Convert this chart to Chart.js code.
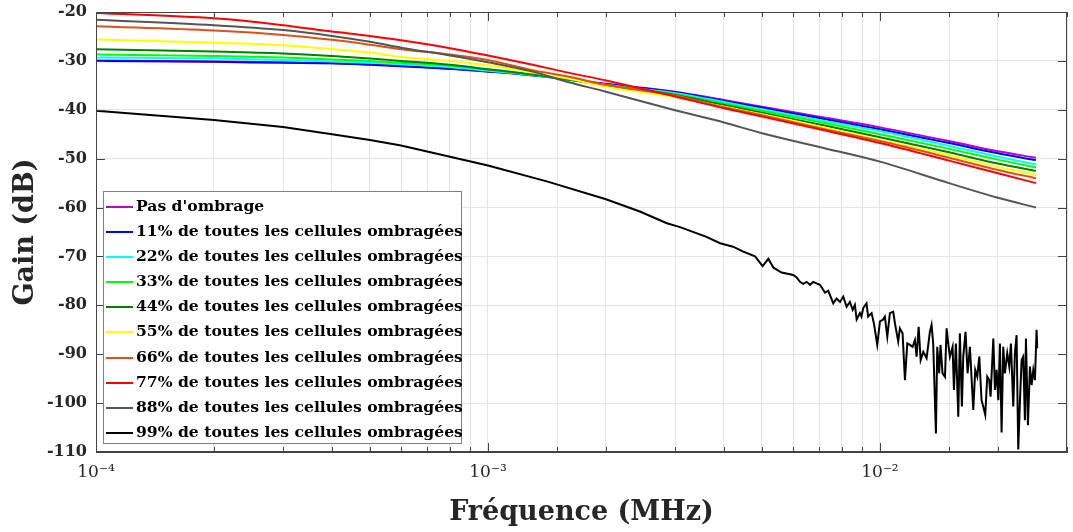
<!DOCTYPE html>
<html>
<head>
<meta charset="utf-8">
<script src="https://cdn.jsdelivr.net/npm/chart.js"></script>
<style>
  body { margin: 0; background: #fff; }
  #boite { position: relative; width: 1073px; height: 532px; }
  #legende {
    position: absolute; left: 103px; top: 191px; width: 357px; height: 250px;
    border: 1px solid #808080; background: #fff; padding-top: 1px;
    font: bold 15.6px "DejaVu Serif", serif; color: #000;
  }
  #legende div { height: 25.1px; line-height: 25.1px; white-space: nowrap; }
  #legende span.trait { display: inline-block; width: 27px; height: 2px; margin: 0 3px 0 2px; vertical-align: middle; }
</style>
</head>
<body>
<div id="boite">
  <canvas id="myChart" width="1073" height="532"></canvas>
  <div id="legende"></div>
</div>
<script>
// Fréquences (MHz) communes aux courbes lisses
const freq = [1e-4, 2e-4, 3e-4, 4e-4, 5e-4, 6e-4, 8e-4, 1e-3, 1.3e-3, 1.6e-3, 2e-3, 3e-3, 4e-3, 5e-3, 7e-3, 1e-2, 1.5e-2, 2e-2, 2.5e-2];

// Gain (dB) pour chaque taux d'ombrage
const pasOmbrage = [-29.9, -30.1, -30.3, -30.5, -30.7, -31.0, -31.6, -32.1, -32.9, -33.7, -34.7, -36.3, -38.0, -39.4, -41.4, -43.6, -46.4, -48.5, -49.8];
const ombre11 = [-30.0, -30.2, -30.4, -30.5, -30.8, -31.1, -31.6, -32.2, -33.0, -33.8, -34.8, -36.4, -38.2, -39.6, -41.7, -44.0, -46.8, -48.9, -50.3];
const ombre22 = [-29.3, -29.5, -29.8, -30.1, -30.4, -30.7, -31.3, -32.0, -32.9, -33.8, -34.9, -36.6, -38.4, -39.9, -42.1, -44.4, -47.4, -49.6, -51.2];
const ombre33 = [-28.7, -29.0, -29.3, -29.7, -30.0, -30.4, -31.0, -31.8, -32.8, -33.8, -35.0, -36.8, -38.7, -40.2, -42.5, -45.0, -48.0, -50.2, -51.8];
const ombre44 = [-27.6, -28.1, -28.5, -29.0, -29.5, -30.0, -30.8, -31.7, -32.8, -33.8, -35.1, -37.0, -39.0, -40.6, -43.0, -45.6, -48.7, -51.0, -52.5];
const ombre55 = [-25.6, -26.3, -26.8, -27.6, -28.3, -29.2, -30.0, -30.9, -32.4, -33.6, -35.3, -37.4, -39.4, -40.9, -43.4, -46.2, -49.3, -51.7, -53.3];
const ombre66 = [-22.9, -23.8, -24.7, -25.7, -26.7, -27.6, -28.7, -29.8, -31.9, -33.2, -34.9, -37.1, -39.5, -41.1, -43.7, -46.4, -49.8, -52.3, -54.0];
const ombre77 = [-20.2, -21.3, -22.7, -24.0, -24.9, -25.8, -27.4, -28.9, -30.8, -32.4, -34.0, -37.3, -39.7, -41.4, -44.0, -46.8, -50.4, -53.0, -55.0];
const ombre88 = [-21.6, -22.7, -23.7, -24.9, -26.1, -27.3, -28.9, -30.3, -32.2, -34.3, -36.3, -40.1, -42.6, -44.8, -47.6, -50.6, -55.0, -58.0, -60.0];

// 99% : courbe bruitée, avec ses propres fréquences
const freq99 = [1e-4, 2e-4, 3e-4, 4e-4, 5e-4, 6e-4, 8e-4, 1e-3, 1.42e-3, 2e-3, 2.44e-3, 2.86e-3, 3.09e-3, 3.61e-3, 3.91e-3,
  4.22e-3, 4.48e-3, 4.8e-3, 5.02e-3, 5.19e-3, 5.35e-3, 5.61e-3, 6.01e-3, 6.13e-3,
  6.25e-3, 6.37e-3, 6.50e-3, 6.63e-3, 6.76e-3, 6.89e-3, 7.03e-3, 7.24e-3, 7.38e-3, 7.60e-3, 7.75e-3, 7.91e-3, 8.06e-3,
  8.22e-3, 8.38e-3, 8.52e-3, 8.63e-3, 8.72e-3, 8.89e-3, 8.97e-3, 9.06e-3, 9.24e-3, 9.33e-3, 9.52e-3, 9.65e-3, 9.84e-3,
  1.000e-2, 1.016e-2, 1.029e-2, 1.044e-2, 1.060e-2, 1.081e-2, 1.092e-2, 1.113e-2, 1.124e-2, 1.142e-2, 1.158e-2, 1.174e-2,
  1.193e-2, 1.211e-2, 1.228e-2, 1.240e-2, 1.255e-2, 1.270e-2, 1.290e-2, 1.315e-2, 1.341e-2, 1.354e-2, 1.367e-2, 1.389e-2,
  1.400e-2, 1.416e-2, 1.427e-2, 1.444e-2, 1.465e-2, 1.479e-2, 1.493e-2, 1.508e-2, 1.532e-2, 1.544e-2, 1.562e-2, 1.584e-2,
  1.599e-2, 1.618e-2, 1.631e-2, 1.653e-2, 1.673e-2, 1.696e-2, 1.730e-2, 1.750e-2, 1.771e-2, 1.792e-2, 1.816e-2, 1.834e-2,
  1.856e-2, 1.878e-2, 1.900e-2, 1.915e-2, 1.946e-2, 1.965e-2, 1.984e-2, 2.004e-2, 2.023e-2, 2.043e-2, 2.063e-2, 2.083e-2,
  2.112e-2, 2.137e-2, 2.158e-2, 2.188e-2, 2.209e-2, 2.231e-2, 2.253e-2, 2.276e-2, 2.298e-2, 2.320e-2, 2.343e-2, 2.357e-2,
  2.385e-2, 2.413e-2, 2.437e-2, 2.461e-2, 2.485e-2, 2.509e-2, 2.519e-2];
const ombre99 = [-40.2, -42.1, -43.5, -45.0, -46.2, -47.3, -49.6, -51.4, -54.7, -58.3, -60.8, -63.2, -64.0, -66.0, -67.3,
  -68.0, -69.0, -70.0, -72.0, -70.5, -72.3, -73.3, -73.8, -74.3,
  -75.2, -75.6, -75.2, -75.8, -75.2, -75.5, -75.8, -77.4, -77.0, -79.6, -78.6, -79.3, -78.2,
  -80.3, -79.3, -80.9, -79.9, -82.9, -81.6, -82.3, -80.6, -79.6, -82.3, -81.6, -83.7, -88.1,
  -83.3, -83.0, -82.3, -86.4, -81.6, -81.3, -83.7, -87.4, -84.7, -85.7, -95.3, -87.8,
  -88.1, -88.5, -87.1, -90.5, -84.4, -91.2, -89.5, -90.8, -85.4, -84.0, -87.8, -106.2,
  -88.5, -93.9, -88.1, -93.9, -94.6, -84.7, -87.8, -90.5, -88.5, -97.3, -87.8, -102.8,
  -85.7, -100.7, -90.5, -85.4, -93.9, -88.5, -101.4, -93.2, -94.6, -90.5, -99.4, -100.7,
  -102.4, -94.6, -95.3, -98.7, -86.8, -97.3, -93.2, -99.4, -87.8, -106.0, -88.5, -93.9,
  -89.8, -92.5, -87.8, -100.7, -89.8, -86.1, -109.5, -99.4, -91.2, -90.5, -103.5, -86.8,
  -104.5, -92.5, -96.3, -93.2, -95.3, -85.0, -88.8];

const noms = ["Pas d'ombrage",
  "11% de toutes les cellules ombragées", "22% de toutes les cellules ombragées",
  "33% de toutes les cellules ombragées", "44% de toutes les cellules ombragées",
  "55% de toutes les cellules ombragées", "66% de toutes les cellules ombragées",
  "77% de toutes les cellules ombragées", "88% de toutes les cellules ombragées",
  "99% de toutes les cellules ombragées"];
const couleurs = ["#bf00bf", "#0000ff", "#00ffff", "#00ff00", "#008000", "#ffff00", "#d95319", "#ff0000", "#555555", "#000000"];
const series = [pasOmbrage, ombre11, ombre22, ombre33, ombre44, ombre55, ombre66, ombre77, ombre88];

const exposants = {"-": "⁻", "0": "⁰", "1": "¹", "2": "²", "3": "³", "4": "⁴", "5": "⁵", "6": "⁶", "7": "⁷", "8": "⁸", "9": "⁹"};

// cadre complet + graduations vers l'intérieur (style MATLAB)
const cadre = {
  id: "cadre",
  afterDatasetsDraw(chart) {
    const {ctx, chartArea: a, scales: {x, y}} = chart;
    ctx.save();
    ctx.strokeStyle = "#444";
    ctx.lineWidth = 1;
    ctx.strokeRect(a.left + 0.5, a.top + 0.5, a.right - a.left - 1, a.bottom - a.top - 1);
    ctx.beginPath();
    x.ticks.forEach(t => {
      const px = Math.round(x.getPixelForValue(t.value)) + 0.5;
      const l = t.label ? 9 : 5;
      ctx.moveTo(px, a.bottom); ctx.lineTo(px, a.bottom - l);
      ctx.moveTo(px, a.top); ctx.lineTo(px, a.top + l);
    });
    y.ticks.forEach(t => {
      const py = Math.round(y.getPixelForValue(t.value)) + 0.5;
      ctx.moveTo(a.left, py); ctx.lineTo(a.left + 9, py);
      ctx.moveTo(a.right, py); ctx.lineTo(a.right - 9, py);
    });
    ctx.stroke();
    ctx.restore();
  }
};

const datasets = series.map((s, i) => ({
  label: noms[i],
  data: freq.map((f, k) => ({x: f, y: s[k]})),
  borderColor: couleurs[i],
  borderWidth: 2,
  pointRadius: 0,
  cubicInterpolationMode: "monotone",
  order: 10 - i
}));
datasets.push({
  label: noms[9],
  data: freq99.map((f, k) => ({x: f, y: ombre99[k]})),
  borderColor: couleurs[9],
  borderWidth: 2,
  pointRadius: 0,
  order: 1
});

const chart = new Chart(document.getElementById("myChart"), {
  type: "line",
  data: {datasets: datasets},
  options: {
    responsive: false,
    animation: false,
    layout: {padding: {left: 0, top: 12, right: 6, bottom: 0}},
    plugins: {legend: {display: false}, tooltip: {enabled: false}},
    scales: {
      x: {
        type: "logarithmic",
        min: 1e-4,
        max: 0.03,
        afterFit: s => { s.height = 80; s.paddingLeft = 0; s.paddingRight = 0; },
        grid: {color: "#e4e4e4", drawTicks: false},
        border: {color: "#444"},
        ticks: {
          autoSkip: false, maxRotation: 0, padding: 10,
          color: "#262626",
          font: {family: "DejaVu Serif", size: 17},
          callback: v => {
            const e = Math.log10(v);
            if (Math.abs(e - Math.round(e)) > 1e-6) return "";
            return "10" + String(Math.round(e)).split("").map(c => exposants[c]).join("");
          }
        },
        title: {
          display: true, text: "Fréquence (MHz)", color: "#262626",
          font: {family: "DejaVu Serif", size: 27, weight: "bold"},
          padding: {top: 3, bottom: 3}
        }
      },
      y: {
        min: -110,
        max: -20,
        afterFit: s => { s.width = 96; s.paddingTop = 0; s.paddingBottom = 0; },
        grid: {color: "#e4e4e4", drawTicks: false},
        border: {color: "#444"},
        ticks: {
          stepSize: 10, padding: 9, color: "#262626",
          font: {family: "DejaVu Serif", size: 16, weight: "bold"}
        },
        title: {
          display: true, text: "Gain (dB)", color: "#262626",
          font: {family: "DejaVu Serif", size: 27, weight: "bold"},
          padding: {top: 10, bottom: 10}
        }
      }
    }
  },
  plugins: [cadre]
});

// Légende en HTML, construite à partir des séries du graphique
const leg = document.getElementById("legende");
chart.data.datasets.forEach(d => {
  const ligne = document.createElement("div");
  const trait = document.createElement("span");
  trait.className = "trait";
  trait.style.background = d.borderColor;
  ligne.appendChild(trait);
  ligne.appendChild(document.createTextNode(d.label));
  leg.appendChild(ligne);
});
</script>
</body>
</html>
